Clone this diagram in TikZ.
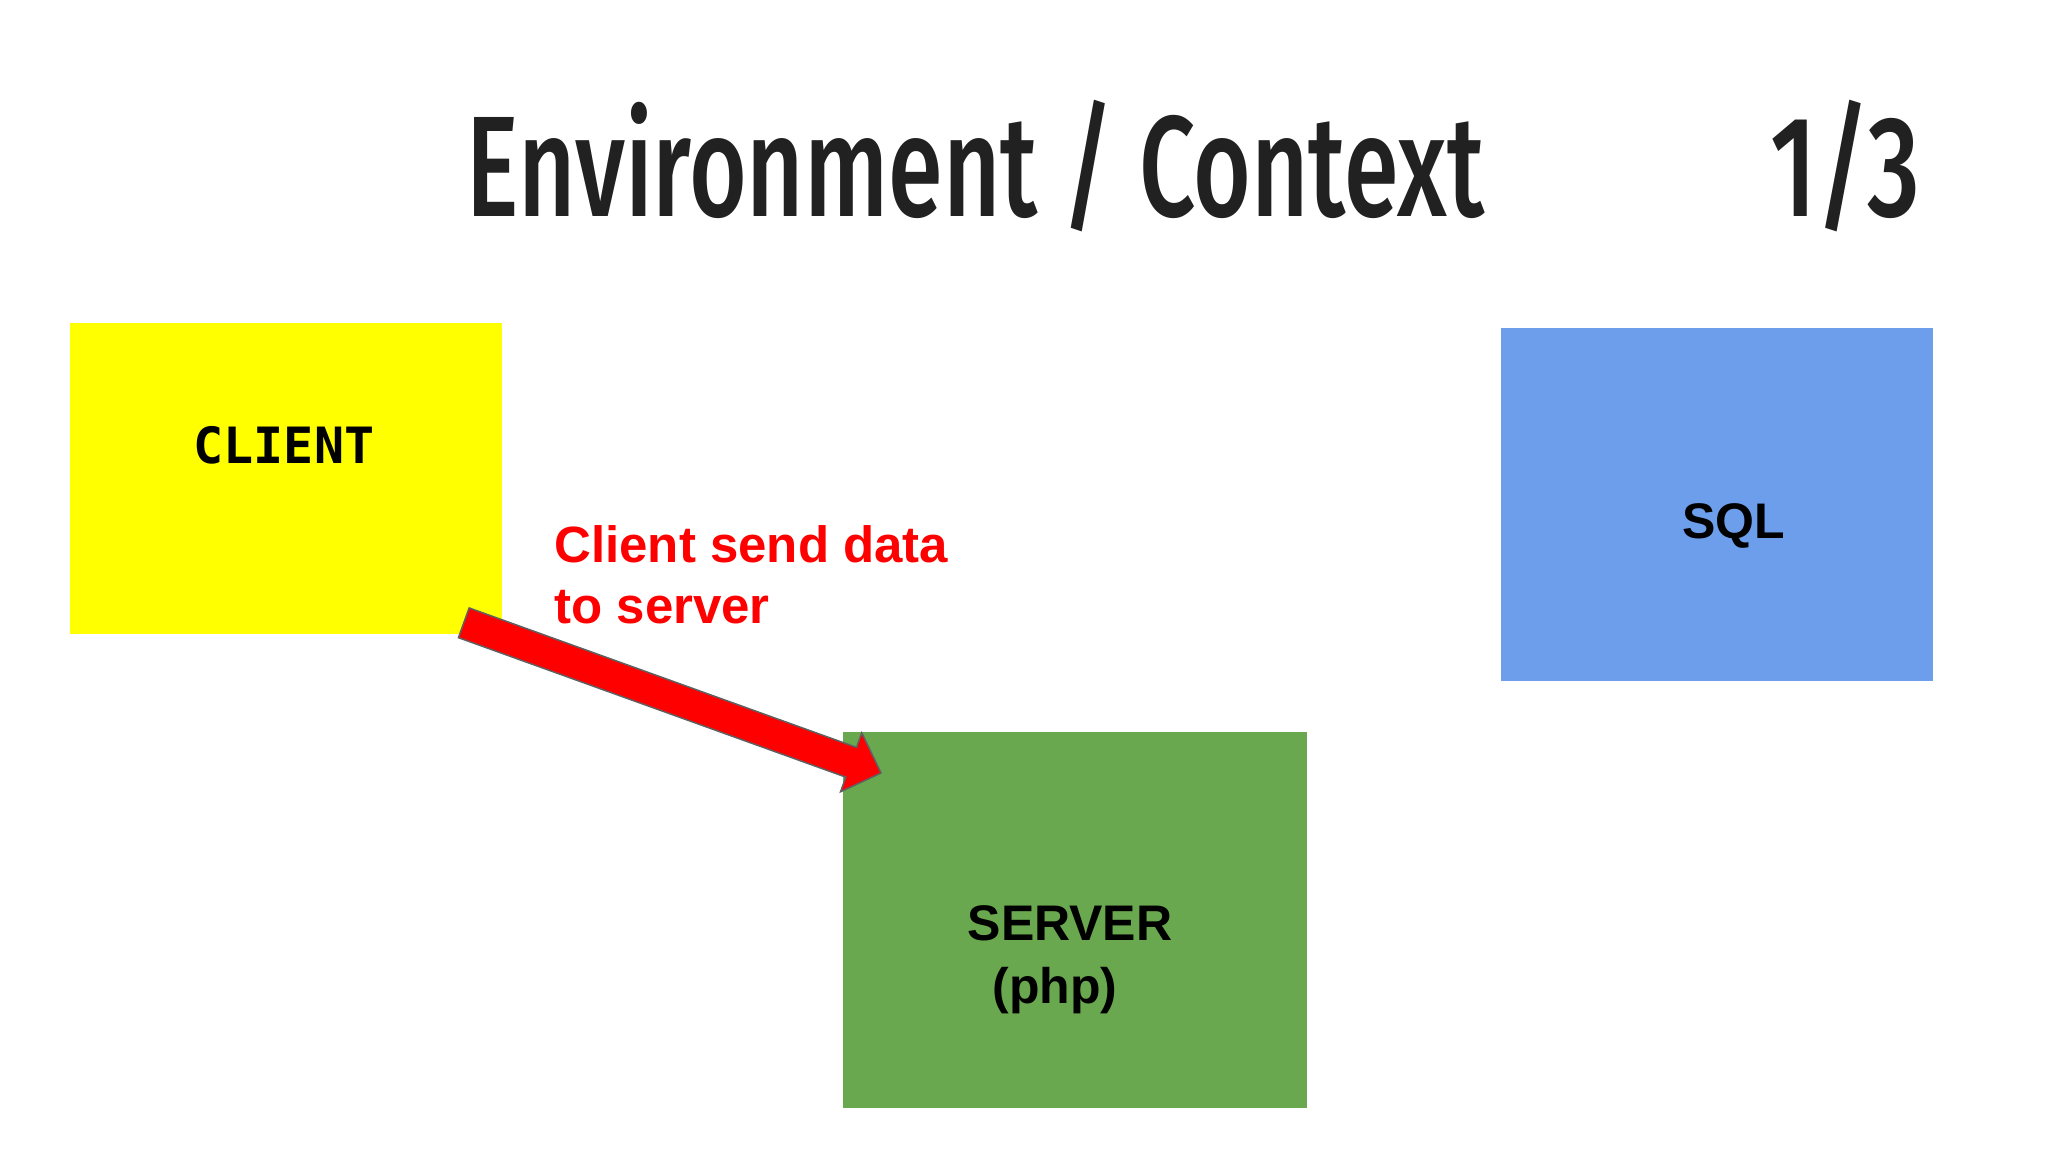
\documentclass[tikz,border=0pt]{standalone}
\usepackage{fontspec}
\usepackage{graphicx}
\usepackage{xcolor}
\usetikzlibrary{calc,positioning}
\newfontfamily\titlefont[UprightFont={* Medium}]{Fira Sans}
\newfontfamily\labelfont{Liberation Sans}
\newfontfamily\codefont{DejaVu Sans Mono}
\definecolor{titlegray}{RGB}{33,33,33}
\definecolor{clientyellow}{RGB}{255,255,0}
\definecolor{servergreen}{RGB}{106,168,79}
\definecolor{sqlblue}{RGB}{109,158,235}
\definecolor{notered}{RGB}{255,0,0}
\definecolor{arrowedge}{RGB}{96,96,96}
\tikzset{
  box/.style={rectangle,inner sep=0pt,anchor=north west},
  boxlabel/.style={inner sep=0pt,font=\labelfont\bfseries\fontsize{25pt}{31.5pt}\selectfont},
  bigarrow/.style={fill=notered,draw=arrowedge,line width=0.75pt,line join=miter}
}

\begin{document}
\begin{tikzpicture}[x=0.5pt,y=-0.5pt]
  \fill[white] (0,0) rectangle (2048,1152);
  \useasboundingbox (0,0) rectangle (2048,1152);
  % title
  \node[anchor=base west,inner sep=0pt,text=titlegray] (title) at (466,216)
    {\resizebox{509pt}{49.5pt}{\titlefont\smash{Environment / Context}\vphantom{E}}};
  \node[anchor=base west,inner sep=0pt,text=titlegray] (page) at (1770,216)
    {\resizebox{75pt}{49.5pt}{\titlefont\smash{1/3}\vphantom{E}}};
  % boxes
  \node[box,fill=clientyellow,minimum width=216pt,minimum height=155.5pt] (client) at (70,323) {};
  \node[box,fill=sqlblue,minimum width=216pt,minimum height=176.5pt] (sql) at (1501,328) {};
  \node[box,fill=servergreen,minimum width=232pt,minimum height=188pt] (server) at (843,732) {};
  \node[inner sep=0pt,anchor=base,font=\codefont\bfseries\fontsize{25pt}{29pt}\selectfont] (clientlabel) at (284,463) {CLIENT};
  \node[boxlabel,anchor=base] (sqllabel) at (1734,538) {SQL};
  \node[boxlabel,anchor=north,align=center] (serverlabel) at (1070,905) {SERVER\\\hspace*{-15pt}(php)};
  % arrow
  \coordinate (tail) at ($(client.south east)+(-39,-12)$);
  \coordinate (tip) at ($(server.north west)+(38,41)$);
  \coordinate (headbase) at ($(tip)!15.85pt!(tail)$);
  \draw[bigarrow] ($(tail)!7.9pt!90:(tip)$) -- ($(headbase)!7.9pt!90:(tip)$)
    -- ($(headbase)!15.65pt!90:(tip)$) -- (tip)
    -- ($(headbase)!15.65pt!-90:(tip)$) -- ($(headbase)!7.9pt!-90:(tip)$)
    -- ($(tail)!7.9pt!-90:(tip)$) -- cycle;
  \node[inner sep=0pt,anchor=north west,align=left,text=notered,
    font=\labelfont\bfseries\fontsize{25.5pt}{30.5pt}\selectfont] (note) at (554,525)
    {Client send data\\to server};
\end{tikzpicture}
\end{document}
